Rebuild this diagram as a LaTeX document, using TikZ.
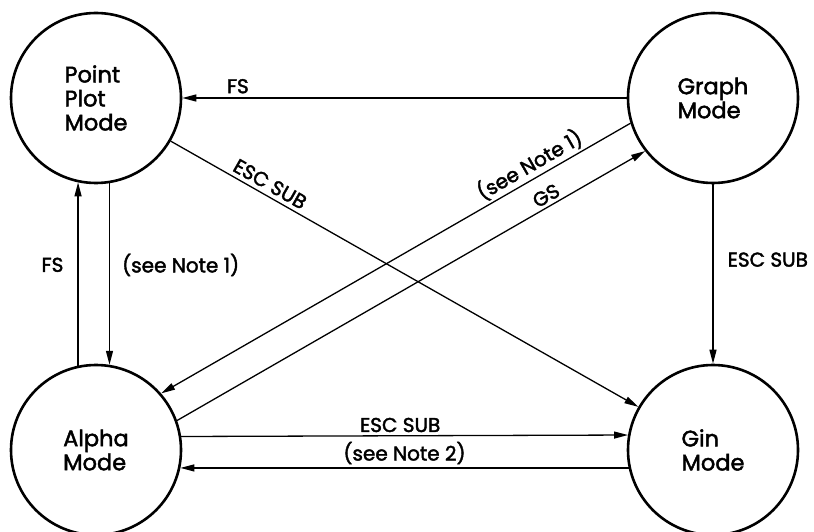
\documentclass[tikz,border=0pt]{standalone}
\usepackage{fontspec}
\setmainfont{Poppins}[FakeBold=2]
\usetikzlibrary{arrows.meta}
\begin{document}
\begin{tikzpicture}[x=1pt,y=1pt,
 state/.style={circle,draw,line width=2.6pt,minimum size=170pt,inner sep=0pt,align=left,font=\fontsize{22.5}{24}\selectfont},
 conn/.style={line width=1.3pt,-{Triangle[length=14pt,width=7pt]}},
 lab/.style={font=\fontsize{20}{22}\selectfont,inner sep=2pt}]
\useasboundingbox (0,0) rectangle (814,531);
\node[state] (P) at (96,433) {Point\\Plot\\Mode};
\node[state] (G) at (713,433) {Graph\\Mode};
\node[state] (A) at (96,81) {Alpha\\Mode};
\node[state] (N) at (713,81) {Gin\\Mode};
% Graph -> Point : FS
\draw[conn] (G.west) -- (P.east) node[lab,above=2pt,pos=0.875] {FS};
% Point -> Gin : ESC SUB
\draw[conn] (P.-30) -- (N.150) node[lab,sloped,above=2pt,pos=0.2] {ESC SUB};
% Graph -> Alpha : (see Note 1)
\draw[conn] (G.197) -- (A.41);
\path (A.41) -- (G.197) node[lab,sloped,above=1pt,pos=0.8] {(see Note 1)};
% Alpha -> Graph : GS
\draw[conn] (A.20) -- (G.218) node[lab,sloped,above=1pt,pos=0.8] {GS};
% Alpha -> Point : FS
\draw[conn] (A.102) -- (P.258) node[lab,left=12pt,pos=0.55] {FS};
% Point -> Alpha : (see Note 1)
\draw[conn] (P.279) -- (A.81) node[lab,right=10pt,pos=0.45] {(see Note 1)};
% Graph -> Gin : ESC SUB
\draw[conn] (G.south) -- (N.north) node[lab,right=12pt,pos=0.42] {ESC SUB};
% Alpha -> Gin : ESC SUB
\draw[conn] (A.9.5) -- (N.170.5) node[lab,above=1pt,pos=0.49] {ESC SUB};
% Gin -> Alpha : (see Note 2)
\draw[conn] (N.192.2) -- (A.-12.2);
\path (A.-12.2) -- (N.192.2) node[lab,above=1.5pt,pos=0.5] {(see Note 2)};
\end{tikzpicture}
\end{document}
